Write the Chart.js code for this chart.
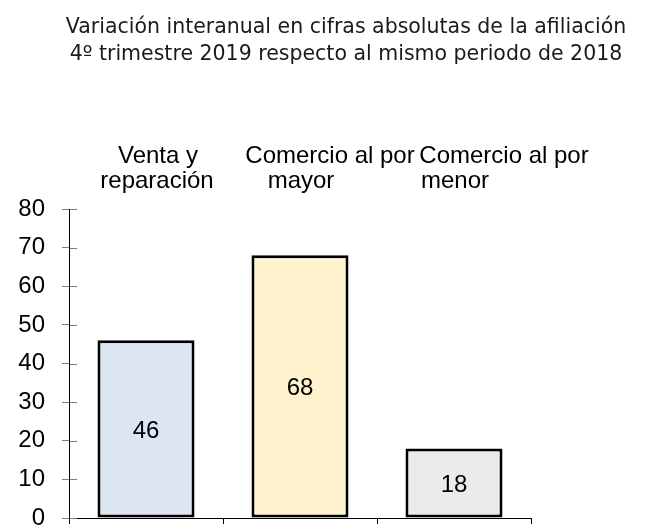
<!DOCTYPE html>
<html>
<head>
<meta charset="utf-8">
<script src="https://cdn.jsdelivr.net/npm/chart.js@4/dist/chart.umd.min.js"></script>
<style>
  html, body { margin: 0; padding: 0; background: #fff; overflow: hidden; }
  #wrap { position: relative; width: 650px; height: 525px; }
</style>
</head>
<body>
<div id="wrap"><canvas id="c" width="650" height="525"></canvas></div>
<script>
const titleLines = [
  "Variación interanual en cifras absolutas de la afiliación",
  "4º trimestre 2019 respecto al mismo periodo de 2018"
];
const categories = [
  ["Venta y", "reparación"],
  ["Comercio al por", "mayor"],
  ["Comercio al por", "menor"]
];
const values = [46, 68, 18];
const barColors = ["#DCE6F2", "#FFF2CC", "#EBEBEB"];
const yMin = 0, yMax = 80, yStep = 10;

// horizontal nudges (px) of each category label line, as the original layout spreads them
const labelLineShift = [[12, 11], [30, 1], [50, 1]];

const titlePlugin = {
  id: 'customTitle',
  afterDraw(chart) {
    const ctx = chart.ctx;
    ctx.save();
    ctx.font = '20.5px "DejaVu Sans"';
    ctx.fillStyle = '#1a1a1a';
    ctx.textAlign = 'center';
    ctx.textBaseline = 'alphabetic';
    ctx.fillText(titleLines[0], 346, 33);
    ctx.fillText(titleLines[1], 346, 60);
    ctx.restore();
  }
};

const categoryLabels = {
  id: 'categoryLabels',
  afterDraw(chart) {
    const xs = chart.scales.x;
    const ctx = chart.ctx;
    ctx.save();
    ctx.font = '24px "Liberation Sans", Arial';
    ctx.fillStyle = '#000';
    ctx.textAlign = 'center';
    ctx.textBaseline = 'middle';
    chart.data.labels.forEach((lab, i) => {
      const px = xs.getPixelForTick(i);
      const lines = Array.isArray(lab) ? lab : [lab];
      lines.forEach((ln, j) => {
        ctx.fillText(ln, px + labelLineShift[i][j], 156 + j * 25);
      });
    });
    ctx.restore();
  }
};

const valueLabels = {
  id: 'valueLabels',
  afterDatasetsDraw(chart) {
    const ctx = chart.ctx;
    const meta = chart.getDatasetMeta(0);
    ctx.save();
    ctx.font = '24px "Liberation Sans", Arial';
    ctx.fillStyle = '#000';
    ctx.textAlign = 'center';
    ctx.textBaseline = 'middle';
    meta.data.forEach((bar, i) => {
      const v = chart.data.datasets[0].data[i];
      ctx.fillText(String(v), bar.x, (bar.y + bar.base) / 2 + 2);
    });
    ctx.restore();
  }
};

const innerTicks = {
  id: 'innerTicks',
  afterDraw(chart) {
    const y = chart.scales.y;
    const ctx = chart.ctx;
    ctx.save();
    ctx.strokeStyle = '#7f7f7f';
    ctx.lineWidth = 1;
    y.ticks.forEach(t => {
      const py = Math.round(y.getPixelForValue(t.value)) + 0.5;
      ctx.beginPath();
      ctx.moveTo(y.right + 1, py);
      ctx.lineTo(y.right + 8, py);
      ctx.stroke();
    });
    ctx.restore();
  }
};

new Chart(document.getElementById('c'), {
  type: 'bar',
  data: {
    labels: categories,
    datasets: [{
      data: values,
      backgroundColor: barColors,
      borderColor: '#000',
      borderWidth: 3,
      borderSkipped: false,
      categoryPercentage: 1,
      barPercentage: 0.63,
      xAxisID: 'x',
      yAxisID: 'y'
    }]
  },
  options: {
    responsive: false,
    animation: false,
    devicePixelRatio: 1,
    layout: { padding: { left: 0, right: 119, top: 0, bottom: 0 } },
    plugins: {
      legend: { display: false },
      title: { display: false },
      tooltip: { enabled: false }
    },
    scales: {
      x: {
        position: 'top',
        offset: true,
        grid: { display: false },
        border: { display: false },
        ticks: { display: false },
        afterFit(s) { s.height = 209; s.paddingLeft = 0; s.paddingRight = 0; }
      },
      xb: {
        type: 'category',
        position: 'bottom',
        labels: categories,
        offset: true,
        grid: { display: true, drawOnChartArea: false, drawTicks: true, tickLength: 6, color: '#000', offset: true },
        border: { display: true, color: '#000', width: 1 },
        ticks: { display: false },
        afterFit(s) { s.height = 7; s.paddingLeft = 0; s.paddingRight = 0; }
      },
      y: {
        min: yMin,
        max: yMax,
        ticks: {
          stepSize: yStep,
          color: '#000',
          font: { family: '"Liberation Sans", Arial', size: 24 },
          padding: 17
        },
        grid: { drawOnChartArea: false, drawTicks: true, tickLength: 7, color: '#7f7f7f' },
        border: { display: true, color: '#000', width: 1 },
        afterFit(s) { s.width = 69; s.paddingTop = 0; s.paddingBottom = 0; }
      }
    }
  },
  plugins: [titlePlugin, categoryLabels, valueLabels, innerTicks]
});
</script>
</body>
</html>
